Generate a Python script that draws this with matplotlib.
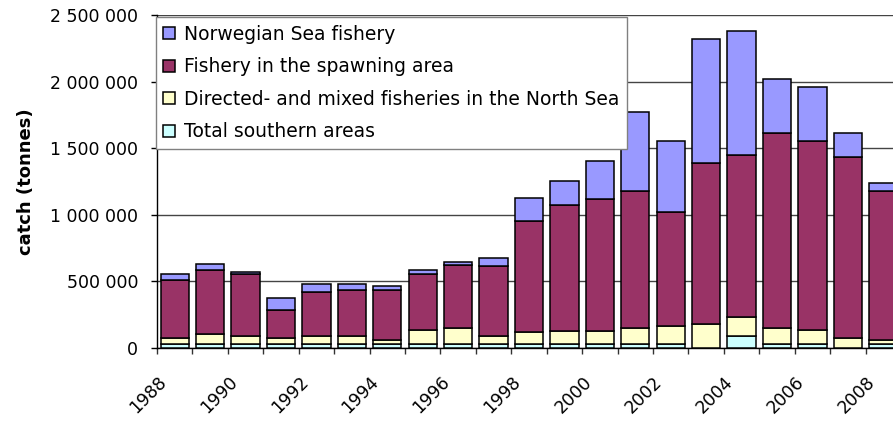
import matplotlib
matplotlib.use("Agg")
import matplotlib.pyplot as plt
import matplotlib.transforms as mtransforms
from matplotlib.ticker import FuncFormatter
import numpy as np

# catch in thousand tonnes
years = list(range(1988, 2009))
southern = [33, 33, 33, 33, 33, 33, 33, 33, 33, 33, 33, 33, 33, 33, 33, 3, 90, 33, 33, 3, 30]
north_sea = [40, 70, 59, 40, 59, 59, 25, 100, 115, 59, 85, 97, 97, 115, 130, 175, 140, 115, 100, 74, 32]
spawning = [437, 480, 461, 212, 326, 341, 380, 420, 478, 521, 838, 944, 991, 1033, 856, 1213, 1221, 1466, 1424, 1359, 1119]
norw_sea = [46, 48, 20, 90, 60, 47, 27, 33, 22, 63, 168, 182, 285, 593, 537, 927, 927, 406, 403, 178, 60]

series_names = ["Total southern areas",
                "Directed- and mixed fisheries in the North Sea",
                "Fishery in the spawning area",
                "Norwegian Sea fishery"]
colors = ["#CCFFFF", "#FFFFCC", "#993366", "#9999FF"]

FONT = "DejaVu Sans"
FS = 12.5
LEG_FS = 13.5

fig = plt.figure(figsize=(8.93, 4.21), dpi=100)
W, H = 893, 421
x0, x1, y0, y1 = 157, 901, 348, 15
ax = fig.add_axes([x0 / W, 1 - y0 / H, (x1 - x0) / W, (y0 - y1) / H])

x = np.arange(len(years))
bottom = np.zeros(len(years))
bars = []
for vals, col, name in zip([southern, north_sea, spawning, norw_sea], colors, series_names):
    v = np.array(vals) * 1000.0
    b = ax.bar(x, v, 0.8, bottom=bottom, color=col, edgecolor="black",
               linewidth=1.1, label=name, zorder=3)
    bars.append(b)
    bottom += v

ax.set_xlim(-0.5, len(years) - 0.5)
ax.set_ylim(0, 2500000)
ax.set_yticks(np.arange(0, 2500001, 500000))
ax.yaxis.set_major_formatter(FuncFormatter(lambda v, p: f"{v:,.0f}".replace(",", " ")))
ax.grid(axis="y", color="#444444", linewidth=1.0, zorder=0)
ax.set_axisbelow(True)

ax.set_xticks(np.arange(-0.5, len(years), 1.0))
ax.set_xticklabels([])
ax.tick_params(axis="x", length=4.5, width=1, color="#333333")
ax.tick_params(axis="y", length=4.5, width=1, pad=9, labelsize=FS)
for lab in ax.get_yticklabels():
    lab.set_family(FONT)

for s in ["top", "right"]:
    ax.spines[s].set_visible(False)
ax.spines["left"].set_linewidth(1.0)
ax.spines["bottom"].set_linewidth(1.0)

# year labels every second year, rotated like the original
off = mtransforms.ScaledTranslation(-11 / 100, -31 / 100, fig.dpi_scale_trans)
for i, yr in enumerate(years):
    if yr % 2 == 0:
        ax.text(i, 0, str(yr), transform=ax.get_xaxis_transform() + off,
                rotation=45, rotation_mode="anchor", ha="right", va="center",
                fontsize=FS, family=FONT, clip_on=False)

ax.set_ylabel("catch (tonnes)", fontsize=13, fontweight="bold", family=FONT)
ax.yaxis.set_label_coords(-(157 - 35) / 744, 0.5)

handles = bars[::-1]
leg = ax.legend(handles, [h.get_label() for h in handles], loc="upper left",
                bbox_to_anchor=(-1.5 / 744, (348 - 17) / 333), borderaxespad=0,
                prop={"family": FONT, "size": LEG_FS}, fancybox=False, framealpha=1,
                edgecolor="#808080", handlelength=0.64, handleheight=0.64,
                handletextpad=0.46, labelspacing=0.72, borderpad=0.42)
leg.get_frame().set_linewidth(1.0)
leg.set_zorder(5)

fig.savefig("out.png", dpi=100)
